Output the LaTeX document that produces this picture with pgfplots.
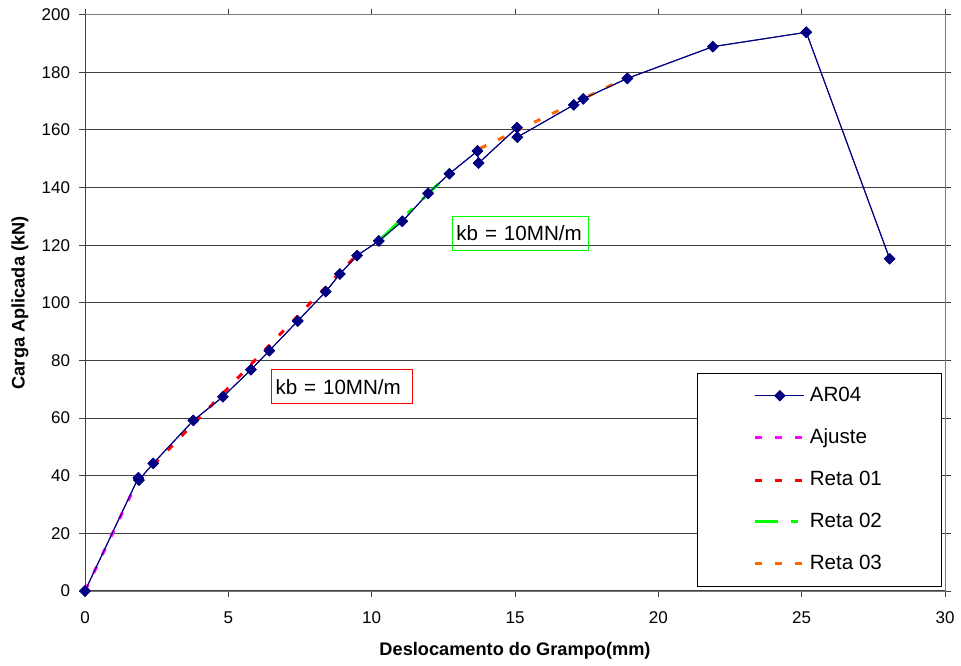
\documentclass[border=0pt]{standalone}
\usepackage{fontspec}
\setmainfont{Liberation Sans}
\usepackage{pgfplots}
\pgfplotsset{compat=1.18}

\definecolor{serie}{HTML}{000080}
\definecolor{ajuste}{HTML}{FF00FF}
\definecolor{reta1}{HTML}{FF0000}
\definecolor{reta2}{HTML}{00FF00}
\definecolor{reta3}{HTML}{FF6600}
\definecolor{grade}{HTML}{404040}

% load-displacement curve of specimen AR04
\pgfplotstableread{
x      y
0.00   0.0
1.86   39.3
1.88   38.5
2.38   44.3
3.78   59.2
4.81   67.4
5.79   76.8
6.43   83.4
7.42   93.7
8.40   103.9
8.89   110.0
9.49   116.4
10.25  121.5
11.07  128.3
11.97  138.0
12.71  144.8
13.69  152.7
13.73  148.5
15.07  160.8
15.08  157.5
17.05  168.7
17.38  170.8
18.92  177.9
21.90  188.9
25.16  193.9
28.07  115.3
}\dadosAR

\begin{document}
\begin{tikzpicture}
\begin{axis}[
  scale only axis,
  width=430bp, height=288.15bp,
  xmin=0, xmax=30, ymin=0, ymax=200,
  xtick={0,5,...,30}, ytick={0,20,...,200},
  tick align=outside, major tick length=3bp,
  tick style={grade, line width=0.5bp},
  ymajorgrids, grid style={grade, line width=0.5bp},
  axis line style={grade!70, line width=0.5bp},
  /pgf/number format/assume math mode=true,
  ticklabel style={font=\fontsize{8.5bp}{10bp}\selectfont},
  xticklabel style={yshift=-4bp},
  yticklabel style={xshift=-1bp},
  every axis x label/.style={at={(axis description cs:0.5,0)}, yshift=-30bp, anchor=center},
  every axis y label/.style={at={(axis description cs:0,0.5)}, xshift=-32.5bp, rotate=90, anchor=center},
  label style={font=\bfseries\fontsize{9.1bp}{11bp}\selectfont},
  xlabel={Deslocamento do Grampo(mm)},
  ylabel={Carga Aplicada (kN)},
  legend image code/.code={%
    \draw[mark repeat=2, mark phase=2, #1]
      plot coordinates {(0bp,0bp) (12.25bp,0bp) (24.5bp,0bp)};},
  legend style={
    at={(0.712,0.007)}, anchor=south west,
    draw=black, line width=0.5bp, fill=white,
    font=\fontsize{10.3bp}{12bp}\selectfont,
    inner xsep=28bp, inner ysep=5bp, row sep=8.25bp,
    nodes={inner sep=2bp}},
  legend cell align=left,
]
\addplot[serie, line width=0.5bp, mark=square*, mark size=1.8bp,
  mark options={rotate=45, solid, fill=serie}] table {\dadosAR};
\addlegendentry{AR04}

% initial fit and straight-line stiffness segments
\addplot[ajuste, line width=1.5bp, dash pattern=on 3.5bp off 6.5bp]
  coordinates {(0,0) (1.82,37.9)};
\addlegendentry{Ajuste}
\addplot[reta1, line width=1.5bp, dash pattern=on 3.5bp off 6.5bp]
  coordinates {(2.40,43.8) (9.50,116.8)};
\addlegendentry{Reta 01}
\addplot[reta2, line width=1.5bp, dash pattern=on 11.5bp off 6.5bp on 3.5bp off 6.5bp]
  coordinates {(10.35,122.4) (12.59,143.8)};
\addlegendentry{Reta 02}
\addplot[reta3, line width=1.5bp, dash pattern=on 3.5bp off 6.5bp]
  coordinates {(13.78,153.6) (18.72,177.3)};
\addlegendentry{Reta 03}

% markers kept above the fitted segments
\addplot[serie, line width=0.5bp, mark=square*, mark size=1.8bp,
  mark options={rotate=45, solid, fill=serie}, forget plot] table {\dadosAR};

% heavier left and bottom axis lines
\draw[grade, line width=1bp] (rel axis cs:0,0) -- (rel axis cs:0,1);
\draw[grade, line width=1bp] (rel axis cs:0,0) -- (rel axis cs:1,0);

\node[draw=reta1, line width=0.5bp, anchor=west, inner xsep=2bp,
  minimum height=17bp, text width=66.5bp, align=left,
  font=\fontsize{10.3bp}{12bp}\selectfont] at (axis cs:6.49,70.8) {kb = 10MN/m};
\node[draw=reta2, line width=0.5bp, anchor=west, inner xsep=2bp,
  minimum height=17bp, text width=64bp, align=left,
  font=\fontsize{10.3bp}{12bp}\selectfont] at (axis cs:12.80,124.2) {kb = 10MN/m};
\end{axis}
\pgfresetboundingbox
\useasboundingbox (-42.5bp,-37.5bp) rectangle (438bp,295.5bp);
\end{tikzpicture}
\end{document}
